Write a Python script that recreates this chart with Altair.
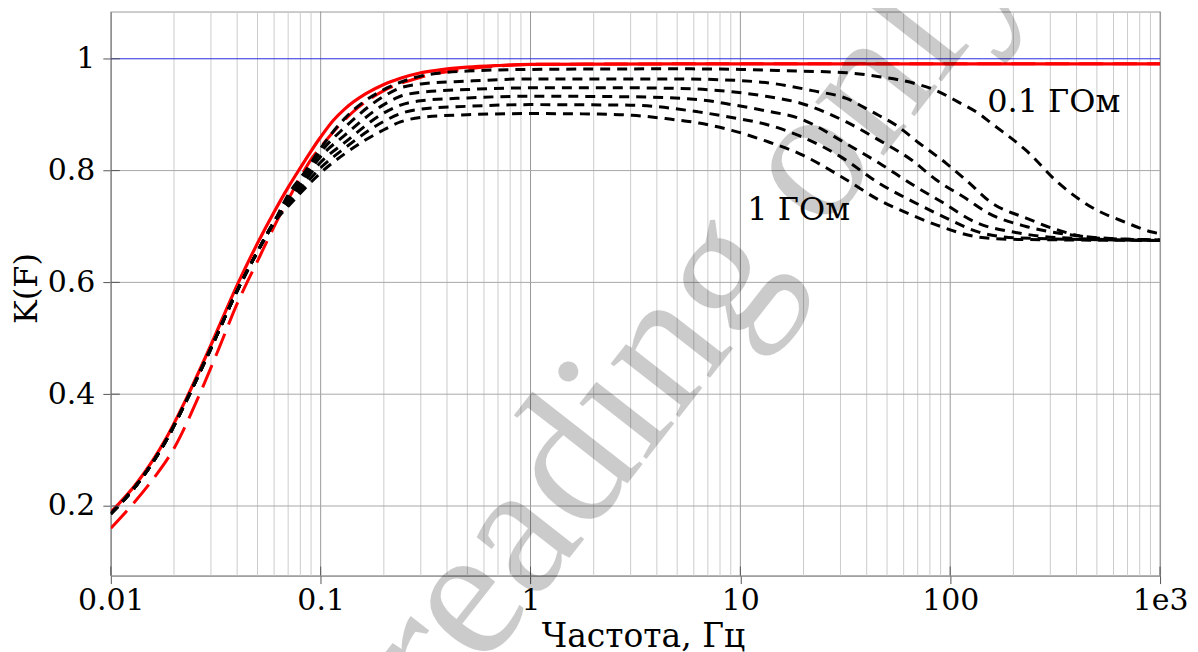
import altair as alt
import pandas as pd

# ---------------- data ----------------
red_solid_f = [0.01, 0.0133, 0.0184, 0.0229, 0.03, 0.04, 0.05, 0.06, 0.07, 0.08, 0.09, 0.1,
               0.115, 0.13, 0.165, 0.2, 0.24, 0.3, 0.35, 0.5, 0.7, 1, 10, 1000]
red_solid_k = [0.189, 0.241, 0.322, 0.392, 0.488, 0.595, 0.67, 0.726, 0.77, 0.805, 0.835, 0.86,
               0.89, 0.91, 0.938, 0.954, 0.965, 0.975, 0.979, 0.985, 0.988, 0.99, 0.991, 0.991]

red_dash_f = [0.01, 0.0125, 0.0153, 0.0202, 0.0265, 0.033, 0.0403, 0.045, 0.05, 0.06, 0.07, 0.082,
              0.09, 0.1, 0.12, 0.15, 0.2, 0.3, 0.5, 0.7, 1, 10, 1000]
red_dash_k = [0.16, 0.2, 0.24, 0.306, 0.40, 0.485, 0.565, 0.603, 0.638, 0.70, 0.748, 0.795,
              0.82, 0.842, 0.877, 0.912, 0.943, 0.967, 0.982, 0.987, 0.99, 0.991, 0.991]

low_f = [0.01, 0.0133, 0.0184, 0.0229, 0.03, 0.04, 0.05, 0.06]
low_k = [0.186, 0.238, 0.318, 0.388, 0.482, 0.585, 0.655, 0.708]

c1_f = [0.07, 0.085, 0.1, 0.13, 0.2, 0.24, 0.3, 0.5, 1, 5, 10, 15, 32, 46, 66, 86, 110, 137, 158,
        230, 330, 474, 689, 916, 1000]
c1_k = [0.757, 0.80, 0.84, 0.893, 0.945, 0.958, 0.969, 0.978, 0.981, 0.982, 0.981, 0.979, 0.975,
        0.968, 0.957, 0.943, 0.922, 0.902, 0.884, 0.836, 0.777, 0.734, 0.707, 0.690, 0.687]

c2_f = [0.07, 0.085, 0.1, 0.13, 0.2, 0.24, 0.3, 0.5, 1, 5, 9.9, 14.2, 22, 32, 42.5, 55.3, 71.2,
        95.7, 119, 158, 230, 330, 474, 1000]
c2_k = [0.752, 0.795, 0.833, 0.877, 0.933, 0.948, 0.955, 0.96, 0.964, 0.964, 0.961, 0.956, 0.943,
        0.929, 0.905, 0.881, 0.849, 0.813, 0.783, 0.742, 0.715, 0.693, 0.680, 0.676]

c3_f = [0.07, 0.085, 0.1, 0.13, 0.2, 0.24, 0.3, 0.5, 1, 3, 6, 9.1, 13.2, 19.2, 32, 46, 66, 86,
        119, 150, 230, 330, 500, 1000]
c3_k = [0.748, 0.79, 0.825, 0.863, 0.918, 0.933, 0.94, 0.945, 0.948, 0.948, 0.946, 0.941, 0.933,
        0.921, 0.887, 0.854, 0.818, 0.783, 0.75, 0.725, 0.70, 0.688, 0.68, 0.676]

c4_f = [0.07, 0.085, 0.1, 0.13, 0.2, 0.24, 0.3, 0.5, 1, 3, 6.3, 9.1, 13.2, 19.2, 32, 46, 66, 90,
        137, 200, 330, 1000]
c4_k = [0.744, 0.784, 0.815, 0.85, 0.903, 0.917, 0.925, 0.93, 0.933, 0.932, 0.927, 0.918, 0.907,
        0.893, 0.848, 0.813, 0.775, 0.745, 0.705, 0.69, 0.68, 0.675]

c5_f = [0.07, 0.085, 0.1, 0.13, 0.2, 0.24, 0.3, 0.5, 1, 3, 6.3, 9.1, 13.2, 19.2, 30, 46, 66, 90,
        137, 200, 1000]
c5_k = [0.74, 0.777, 0.805, 0.84, 0.888, 0.902, 0.91, 0.915, 0.918, 0.917, 0.905, 0.895, 0.883,
        0.862, 0.825, 0.777, 0.745, 0.72, 0.69, 0.68, 0.675]

c6_f = [0.07, 0.085, 0.1, 0.13, 0.2, 0.24, 0.3, 0.5, 1, 2.12, 3.05, 4.4, 6.34, 9.1, 13.2, 19.2,
        30, 46, 66, 90, 137, 200, 1000]
c6_k = [0.736, 0.77, 0.796, 0.83, 0.873, 0.887, 0.895, 0.9, 0.902, 0.901, 0.899, 0.893, 0.885,
        0.872, 0.853, 0.83, 0.79, 0.747, 0.72, 0.70, 0.681, 0.677, 0.675]

major_ticks = [0.01, 0.1, 1, 10, 100, 1000]
minor_ticks = [m * d for d in [0.01, 0.1, 1, 10, 100] for m in range(2, 10)]
y_ticks = [0.2, 0.4, 0.6, 0.8, 1.0]

label_text = ["0.1 ГОм", "1 ГОм"]
label_f = [150, 10.8]
label_k = [0.905, 0.711]

watermark_text = ["reading only"]
watermark_f = [9.6]
watermark_k = [0.49]

# ---------------- tables ----------------
black = []
for name, fs, ks in [("c1", c1_f, c1_k), ("c2", c2_f, c2_k), ("c3", c3_f, c3_k),
                     ("c4", c4_f, c4_k), ("c5", c5_f, c5_k), ("c6", c6_f, c6_k)]:
    for f, k in zip(low_f + fs, low_k + ks):
        black.append({"series": name, "f": f, "k": k})
black_df = pd.DataFrame(black)
red_solid_df = pd.DataFrame({"f": red_solid_f, "k": red_solid_k})
red_dash_df = pd.DataFrame({"f": red_dash_f, "k": red_dash_k})
major_df = pd.DataFrame({"f": major_ticks})
minor_df = pd.DataFrame({"f": minor_ticks})
ytick_df = pd.DataFrame({"k": y_ticks})
one_df = pd.DataFrame({"k": [1.0]})
labels_df = pd.DataFrame({"f": label_f, "k": label_k, "t": label_text})
wm_df = pd.DataFrame({"f": watermark_f, "k": watermark_k, "t": watermark_text})

W, H = 1051, 565
FONT = "DejaVu Serif"

xscale = alt.Scale(type="log", domain=[0.01, 1000], nice=False)
yscale = alt.Scale(domain=[0.0755, 1.0845], nice=False, zero=False)

xaxis = alt.Axis(values=major_ticks, labelExpr="datum.value >= 1000 ? '1e3' : format(datum.value, '~g')",
                 title="Частота, Гц", grid=False, ticks=True, tickSize=8, tickColor="#555555",
                 labelPadding=2, labelFont=FONT, labelFontSize=30, labelColor="#000000",
                 titleFont=FONT, titleFontSize=33, titleFontWeight="normal", titleColor="#000000",
                 titleX=533, titleY=71, titleBaseline="alphabetic", titleAlign="center",
                 domainColor="#888888", labelFlush=False)
yaxis = alt.Axis(values=y_ticks, labelExpr="format(datum.value, '~g')", title="K(F)",
                 grid=False, tickSize=8, tickColor="#555555", labelPadding=8,
                 labelFont=FONT, labelFontSize=30, labelColor="#000000",
                 titleFont=FONT, titleFontSize=32, titleFontWeight="normal", titleColor="#000000",
                 titleAngle=270, titleX=-74, titleY=277, titleBaseline="alphabetic",
                 titleAlign="center", domainColor="#888888")

X = alt.X("f:Q", scale=xscale, axis=xaxis)
Y = alt.Y("k:Q", scale=yscale, axis=yaxis)

minor_grid = alt.Chart(minor_df).mark_rule(color="#cccccc", strokeWidth=1).encode(x=X)
major_grid = alt.Chart(major_df).mark_rule(color="#999999", strokeWidth=1).encode(x=X)
h_grid = alt.Chart(ytick_df[ytick_df.k < 0.99]).mark_rule(color="#a8a8a8", strokeWidth=1).encode(y=Y)
x_in_ticks = alt.Chart(major_df).mark_rule(color="#555555", strokeWidth=1).encode(
    x=X, y=alt.value(H), y2=alt.value(H - 9))
y_in_ticks = alt.Chart(ytick_df).mark_rule(color="#555555", strokeWidth=1).encode(
    y=Y, x=alt.value(0), x2=alt.value(9))
blue = alt.Chart(one_df).mark_rule(color="#2b2bdd", strokeWidth=1).encode(y=Y)

red_solid = alt.Chart(red_solid_df).mark_line(color="#ff0000", strokeWidth=3.2, clip=True,
                                              interpolate="monotone").encode(x=X, y=Y)
red_dash = alt.Chart(red_dash_df).mark_line(color="#ff0000", strokeWidth=3, strokeDash=[24, 10],
                                            clip=True, interpolate="monotone").encode(x=X, y=Y)
black_lines = alt.Chart(black_df).mark_line(color="#000000", strokeWidth=3, strokeDash=[10, 7],
                                            clip=True, interpolate="monotone").encode(
    x=X, y=Y, detail="series:N")

labels = alt.Chart(labels_df).mark_text(font=FONT, fontSize=32, align="left",
                                        baseline="alphabetic", color="#000000").encode(
    x=X, y=Y, text="t:N")

watermark = alt.Chart(wm_df).mark_text(font="Liberation Serif", fontSize=190, align="center",
                                       baseline="alphabetic", angle=308, color="#000000",
                                       opacity=0.2).encode(x=X, y=Y, text="t:N")

chart = alt.layer(minor_grid, major_grid, h_grid, blue, red_solid, red_dash, black_lines,
                  x_in_ticks, y_in_ticks, labels, watermark).properties(
    width=W, height=H,
    autosize=alt.AutoSizeParams(type="none"),
    padding={"left": 103, "top": 3, "right": 30, "bottom": 80},
).configure_view(stroke="#999999", strokeWidth=1)

chart.save("out.html", embed_options={"renderer": "svg", "actions": False})
